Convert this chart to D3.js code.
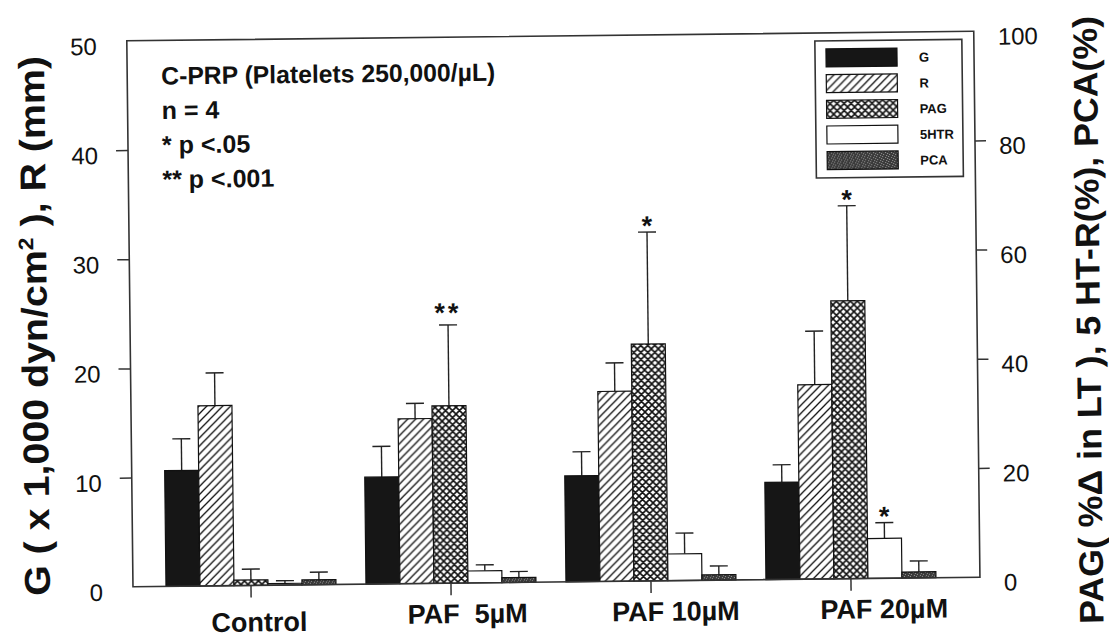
<!DOCTYPE html>
<html>
<head>
<meta charset="utf-8">
<script src="https://cdnjs.cloudflare.com/ajax/libs/d3/7.8.5/d3.min.js"></script>
<style>
  body { margin: 0; background: #fff; }
  svg { display: block; }
  text { font-family: "Liberation Sans", Arial, Helvetica, sans-serif; fill: #111; }
</style>
</head>
<body>
<div id="chart"></div>
<script>
// data
var categories = ["Control", "PAF  5µM", "PAF 10µM", "PAF 20µM"];
var seriesNames = ["G", "R", "PAG", "5HTR", "PCA"];
var seriesAxis = ["left", "left", "right", "right", "right"];

var gValues = [10.6, 9.8, 9.7, 8.9];
var gErr = [2.9, 2.8, 2.2, 1.6];
var rValues = [16.5, 15.1, 17.4, 17.8];
var rErr = [3.0, 1.4, 2.6, 4.9];
var pagValues = [1.0, 32.5, 43.4, 50.9];
var pagErr = [2.0, 14.8, 20.5, 17.4];
var htrValues = [0.3, 2.2, 4.9, 7.3];
var htrErr = [0.5, 1.1, 3.8, 2.9];
var pcaValues = [0.9, 0.9, 1.0, 1.1];
var pcaErr = [1.4, 1.1, 1.6, 2.0];

var leftTicks = [0, 10, 20, 30, 40, 50];
var rightTicks = [0, 20, 40, 60, 80, 100];

// [category index, series index, mark]
var stars = [[1, 2, "**"], [2, 2, "*"], [3, 2, "*"], [3, 3, "*"]];

var infoLines = ["C-PRP (Platelets 250,000/µL)", "n = 4", "* p <.05", "** p <.001"];

var allValues = [gValues, rValues, pagValues, htrValues, pcaValues];
var allErr = [gErr, rErr, pagErr, htrErr, pcaErr];

var svgWidth = 1109;
var svgHeight = 642;
var box = {left: 130, right: 977, top: 36, bottom: 582};

var svg = d3.select("#chart").append("svg")
    .attr("width", svgWidth)
    .attr("height", svgHeight);

// the scan is a little tilted
var root = svg.append("g")
    .attr("transform", "rotate(-0.65, 554, 321)");

var defs = svg.append("defs");

var hatch = defs.append("pattern")
    .attr("id", "hatch")
    .attr("patternUnits", "userSpaceOnUse")
    .attr("width", 8).attr("height", 8);
hatch.append("rect").attr("width", 8).attr("height", 8).attr("fill", "#fff");
hatch.append("path")
    .attr("d", "M0,8 L8,0 M-2,2 L2,-2 M6,10 L10,6")
    .attr("stroke", "#111").attr("stroke-width", 1.3);

var cross = defs.append("pattern")
    .attr("id", "cross")
    .attr("patternUnits", "userSpaceOnUse")
    .attr("width", 7).attr("height", 7);
cross.append("rect").attr("width", 7).attr("height", 7).attr("fill", "#fff");
cross.append("path")
    .attr("d", "M0,0 L7,7 M7,0 L0,7 M-1,1 L1,-1 M6,8 L8,6 M-1,6 L1,8 M6,-1 L8,1")
    .attr("stroke", "#111").attr("stroke-width", 1.6);

var speckle = defs.append("pattern")
    .attr("id", "speckle")
    .attr("patternUnits", "userSpaceOnUse")
    .attr("width", 6).attr("height", 5);
speckle.append("rect").attr("width", 6).attr("height", 5).attr("fill", "#3a3a3a");
[[1, 0], [4, 1], [2, 3], [5, 4], [0, 2]].forEach(function(p) {
    speckle.append("rect").attr("x", p[0]).attr("y", p[1])
        .attr("width", 1).attr("height", 1).attr("fill", "#9a9a9a");
});

var fills = ["#161616", "url(#hatch)", "url(#cross)", "#fff", "url(#speckle)"];

var yLeft = d3.scaleLinear().domain([0, 50]).range([box.bottom, box.top]);
var yRight = d3.scaleLinear().domain([0, 100]).range([box.bottom, box.top]);
var x0 = d3.scaleBand().domain(categories).range([148, 948]);
var x1 = d3.scaleBand().domain(seriesNames).range([0, 170]);
var groupOffset = (x0.bandwidth() - 170) / 2;

function yFor(si) {
    return seriesAxis[si] === "left" ? yLeft : yRight;
}

// bars
var bars = [];
categories.forEach(function(c, ci) {
    seriesNames.forEach(function(s, si) {
        bars.push({cat: c, ci: ci, si: si, value: allValues[si][ci], err: allErr[si][ci]});
    });
});

function barX(d) { return x0(d.cat) + groupOffset + x1(seriesNames[d.si]); }
function barMid(d) { return barX(d) + x1.bandwidth() / 2; }

// error bars
var errG = root.append("g").attr("stroke", "#222").attr("stroke-width", 1.4);
errG.selectAll("line.stem")
    .data(bars)
    .enter()
    .append("line")
    .attr("class", "stem")
    .attr("x1", barMid).attr("x2", barMid)
    .attr("y1", function(d) { return yFor(d.si)(d.value); })
    .attr("y2", function(d) { return yFor(d.si)(d.value + d.err); });
errG.selectAll("line.cap")
    .data(bars)
    .enter()
    .append("line")
    .attr("class", "cap")
    .attr("x1", function(d) { return barMid(d) - 9; })
    .attr("x2", function(d) { return barMid(d) + 9; })
    .attr("y1", function(d) { return yFor(d.si)(d.value + d.err); })
    .attr("y2", function(d) { return yFor(d.si)(d.value + d.err); });

root.append("g").selectAll("rect")
    .data(bars)
    .enter()
    .append("rect")
    .attr("x", barX)
    .attr("width", x1.bandwidth())
    .attr("y", function(d) { return yFor(d.si)(d.value); })
    .attr("height", function(d) { return box.bottom - yFor(d.si)(d.value); })
    .attr("fill", function(d) { return fills[d.si]; })
    .attr("stroke", "#111")
    .attr("stroke-width", 1.2);

// frame
root.append("rect")
    .attr("x", box.left).attr("y", box.top)
    .attr("width", box.right - box.left)
    .attr("height", box.bottom - box.top)
    .attr("fill", "none")
    .attr("stroke", "#333")
    .attr("stroke-width", 1.6);

// axes
var leftAxis = d3.axisLeft(yLeft).tickValues(leftTicks).tickSize(12).tickPadding(18);
var gl = root.append("g").attr("transform", "translate(" + box.left + ",0)").call(leftAxis);

var rightAxis = d3.axisRight(yRight).tickValues(rightTicks).tickSize(11).tickPadding(13);
var gr = root.append("g").attr("transform", "translate(" + box.right + ",0)").call(rightAxis);

var bottomAxis = d3.axisBottom(x0).tickSize(12).tickFormat("");
var gb = root.append("g").attr("transform", "translate(0," + box.bottom + ")").call(bottomAxis);

[gl, gr, gb].forEach(function(g) {
    g.select(".domain").remove();
    g.selectAll(".tick line").attr("stroke", "#333").attr("stroke-width", 1.5);
    g.selectAll(".tick text")
        .style("font-size", "24px")
        .attr("fill", "#111")
        .attr("dy", "0.55em");
});
gl.selectAll(".tick").filter(function(d) { return d === 0 || d === 50; }).select("line").remove();
gr.selectAll(".tick").filter(function(d) { return d === 0 || d === 100; }).select("line").remove();

// category labels
var xLabel = d3.scalePoint().domain(categories).range([256, 881]);
root.append("g").selectAll("text")
    .data(categories)
    .enter()
    .append("text")
    .attr("x", function(d) { return xLabel(d); })
    .attr("y", function(d, i) { return i === 0 ? 628 : 622; })
    .attr("text-anchor", "middle")
    .style("font-size", "27px")
    .style("font-weight", "bold")
    .style("white-space", "pre")
    .attr("xml:space", "preserve")
    .text(function(d) { return d; });

// significance marks
root.append("g").selectAll("text")
    .data(stars)
    .enter()
    .append("text")
    .attr("x", function(d) { return x0(categories[d[0]]) + groupOffset + x1(seriesNames[d[1]]) + x1.bandwidth() / 2; })
    .attr("y", function(d) {
        var top = allValues[d[1]][d[0]] + allErr[d[1]][d[0]];
        return yFor(d[1])(top) + (d[2] === "**" ? -3 : 3);
    })
    .attr("text-anchor", "middle")
    .style("font-size", "27px")
    .style("font-weight", "bold")
    .attr("letter-spacing", function(d) { return d[2] === "**" ? "3px" : null; })
    .text(function(d) { return d[2]; });

// info text, top left
root.append("g").selectAll("text")
    .data(infoLines)
    .enter()
    .append("text")
    .attr("x", 164)
    .attr("y", function(d, i) { return 80 + i * 34.5; })
    .style("font-size", "25px")
    .style("font-weight", "bold")
    .attr("textLength", function(d, i) { return i === 0 ? 334 : null; })
    .attr("lengthAdjust", "spacingAndGlyphs")
    .text(function(d) { return d; });

// legend
var legend = root.append("g");
legend.append("rect")
    .attr("x", 818).attr("y", 44)
    .attr("width", 147).attr("height", 137)
    .attr("fill", "#fff")
    .attr("stroke", "#333")
    .attr("stroke-width", 1.6);
var items = legend.selectAll("g.item")
    .data(seriesNames)
    .enter()
    .append("g")
    .attr("class", "item")
    .attr("transform", function(d, i) { return "translate(829," + (52 + i * 25.7) + ")"; });
items.append("rect")
    .attr("width", 71).attr("height", 18)
    .attr("fill", function(d, i) { return fills[i]; })
    .attr("stroke", "#111")
    .attr("stroke-width", 1.2);
items.append("text")
    .attr("x", 93).attr("y", 14)
    .style("font-size", "13px")
    .style("font-weight", "bold")
    .text(function(d) { return d; });

// axis titles
var lt = root.append("text")
    .attr("transform", "translate(47,320)rotate(-90)")
    .attr("text-anchor", "middle")
    .style("font-size", "36px")
    .style("font-weight", "bold")
    .attr("textLength", 540)
    .attr("lengthAdjust", "spacingAndGlyphs");
lt.append("tspan").text("G ( x 1,000 dyn/cm");
lt.append("tspan").attr("dy", -13).style("font-size", "21px").text("2");
lt.append("tspan").attr("dy", 13).text(" ), R (mm)");

root.append("text")
    .attr("transform", "translate(1100,326)rotate(-90)")
    .attr("text-anchor", "middle")
    .style("font-size", "34px")
    .style("font-weight", "bold")
    .attr("textLength", 608)
    .attr("lengthAdjust", "spacingAndGlyphs")
    .text("PAG( %Δ in LT ), 5 HT-R(%), PCA(%)");
</script>
</body>
</html>
